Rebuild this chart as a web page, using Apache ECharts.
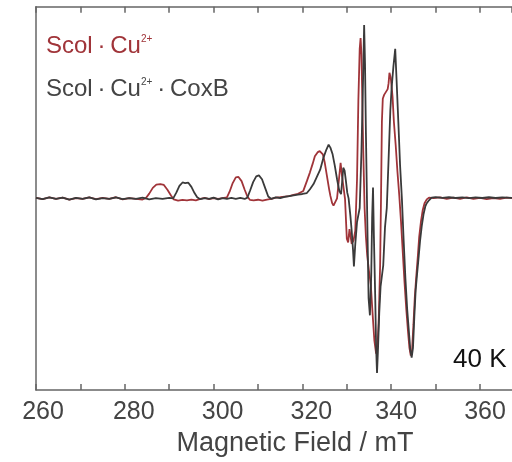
<!DOCTYPE html>
<html>
<head>
<meta charset="utf-8">
<script src="https://cdn.jsdelivr.net/npm/echarts@6/dist/echarts.min.js"></script>
<style>
html,body{margin:0;padding:0;background:#fff;}
#chart{width:512px;height:462px;}
</style>
</head>
<body>
<div id="chart"></div>
<script>
// Magnetic field (mT) vs EPR signal (arb. units)
const scolCu = [
[260,0.3],[261.5,-0.4],[263,0.5],[264.5,-0.2],[266,0.4],[267.5,-0.6],[269,0.2],[270.5,-0.3],[272,0.5],[273.5,-0.4],[275,0.3],[276.5,-0.2],[278,0.6],[279.5,-0.5],[281,0.2],[282.5,-0.3],[284,-0.6],[284.8,0.3],
[285.5,2.5],[286.3,5.5],[287.1,7.2],[288.0,7.5],[288.8,7.0],[289.6,4.5],[290.4,1.5],[291.0,-0.5],[292,-1.2],[293,-0.8],[294,-1.0],[295,-0.6],[296,-1.0],[297,-0.2],[298,0.3],[299,-0.4],[300,0.2],[301,-0.3],[302,0.1],[303.0,0.5],
[303.6,3.5],[304.3,8.0],[305.0,11.0],[305.6,11.2],[306.3,9.0],[307.0,4.5],[307.6,1.0],[308.2,-0.8],[309,-1.0],[310,-0.7],[311,-1.2],[312,-0.6],[313,-0.3],[314,0.4],[315,0.6],[316,0.9],[317,1.2],[318,1.8],[319,2.4],[320.2,3.9],
[321.0,9],[321.7,13.6],[322.3,18],[322.8,22],[323.4,24],[323.9,24.7],[324.2,25],[324.6,23],[325.0,19],[325.5,12],[326.0,5],[326.3,1.3],[326.7,-2.5],[327.0,-3.8],[327.4,-4],[327.8,0],[328.1,7],[328.6,18.6],[328.9,12],[329.3,5],[329.6,-0.4],
[330.0,-21],[330.3,-23],[330.6,-16],[330.9,-17],[331.1,-23.7],[331.5,-22],[331.9,-17],[332.3,10],[332.6,51],[332.9,78],[333.1,83.6],[333.3,75],[333.7,25],[334.0,-5],[334.3,-20],[334.6,-30],[335.0,-38],[335.4,-45],[335.8,-60],[336.2,-74],[336.6,-81],[336.9,-78],[337.2,-62],[337.5,-35],[337.7,0],[337.9,40],
[338.1,52],[338.4,54],[338.8,55],[339.2,57],[339.4,60],[339.6,65.5],[339.9,63],[340.3,53],[340.6,40],[341.0,28],[341.4,14],[341.8,2],[342.2,-12],[342.6,-28],[343.0,-44],[343.4,-58],[343.8,-70],[344.1,-78],[344.4,-82],[344.7,-79],[345.0,-66],[345.3,-52],[345.6,-42],[346.0,-30],[346.3,-20],[346.7,-12],[347.1,-6],[347.5,-2.5],[348.0,-0.5],[348.5,0.4],
[349.5,0.1],[351,0.5],[352.5,-0.3],[354,0.4],[355.5,-0.2],[357,0.5],[358.5,-0.3],[360,0.3],[361.5,-0.4],[363,0.2],[364.5,-0.3],[366,0.4],[367.2,0.1]
];
const scolCuCoxB = [
[260,0.3],[261.5,-0.4],[263,0.5],[264.5,-0.2],[266,0.4],[267.5,-0.6],[269,0.3],[270.5,-0.3],[272,0.5],[273.5,-0.5],[275,0.2],[276.5,-0.3],[278,0.5],[279.5,-0.4],[281,0.2],[282.5,-0.3],[284,0.4],[285.5,-0.5],[287,0.2],[288.5,-0.3],[290,0.3],[290.9,0.0],
[291.6,3],[292.3,6.5],[293.0,8.3],[293.6,8.0],[294.3,8.2],[295.0,6],[295.7,2.8],[296.3,0.6],[297,-0.4],[298,0.2],[299,-0.3],[300,0.4],[301,-0.5],[302,0.2],[303,-0.3],[304,0.3],[305,-0.2],[306,0.3],[307,-0.3],[307.6,0.4],
[308.2,4],[308.9,8.5],[309.6,11.5],[310.2,12],[310.9,10],[311.6,5.5],[312.3,1],[313,-0.3],[314,0.5],[315,0.2],[316,0.8],[317,1.2],[318,1.6],[319,2.0],[320,2.3],[321,2.8],[321.7,4.8],[322.5,7.5],[323.2,11],[324.0,15],[324.7,21],[325.4,25.5],[325.9,28],[326.3,26.5],[326.8,23],[327.3,17],[327.8,10],[328.3,4],[328.7,2.2],
[329.0,10],[329.2,16],[329.5,14.5],[329.8,9],[330.1,3],[330.4,0],[330.8,-9],[331.1,-17],[331.4,-27],[331.6,-35.5],[331.9,-24],[332.3,-12.3],[332.6,-12],[332.9,-5],[333.3,25],[333.6,55],[333.9,90.5],[334.1,70],[334.3,34],[334.6,-10],[334.9,-52],[335.2,-61],[335.5,-40],[335.7,-10],[335.9,5.7],[336.1,-20],[336.4,-52],[336.6,-78],[336.8,-91],
[337.0,-80],[337.3,-60],[337.6,-46],[337.9,-45],[338.2,-35],[338.6,-15],[339.0,-5],[339.4,20],[339.8,46],[340.1,58],[340.5,69],[340.9,78],[341.2,62],[341.6,40],[342.0,17],[342.4,0],[342.8,-22],[343.2,-42],[343.6,-58],[344.0,-70],[344.3,-79],[344.6,-83],[344.9,-78],[345.2,-62],[345.5,-48],[345.8,-40],[346.2,-30],[346.5,-22],[346.9,-14],[347.3,-8],[347.7,-4],[348.0,-2.5],[348.5,-1],[349.1,0.4],
[350,0.7],[351.5,0.3],[353,0.6],[354.5,0.2],[356,0.5],[357.5,0.1],[359,0.5],[360.5,0.2],[362,0.6],[363.5,0.2],[365,0.5],[367.2,0.3]
];
const xLabelValues = [260, 280, 300, 320, 340, 360];

// label shift (px) to mimic reference placement
const labelShift = {260: 7, 280: 9, 300: 9, 320: 9, 340: 5, 360: 5};

const FONT = "'Liberation Sans', Arial, Helvetica, sans-serif";
const RED = '#a03439';
const DARK = '#3a3a3a';
const AXIS = '#666666';

const rich = {};
Object.keys(labelShift).forEach(k => {
  rich['s' + k] = {padding: [0, 0, 0, labelShift[k] * 2]};
});

const chart = echarts.init(document.getElementById('chart'), null, {renderer: 'canvas'});
chart.setOption({
  animation: false,
  backgroundColor: '#fff',
  grid: {left: 36, right: 0, top: 6.7, bottom: 69.3, containLabel: false},
  xAxis: [{
    type: 'value', position: 'bottom', min: 260, max: 367.2, interval: 10,
    axisLine: {show: true, onZero: false, lineStyle: {color: AXIS, width: 1.5}},
    axisTick: {show: true, inside: true, length: 6, lineStyle: {color: AXIS, width: 1.5}},
    splitLine: {show: false},
    axisLabel: {
      show: true, margin: 10, color: '#444', fontSize: 25, fontFamily: FONT,
      showMaxLabel: false, showMinLabel: true, interval: 0,
      formatter: v => xLabelValues.indexOf(v) >= 0 ? '{s' + v + '|' + v + '}' : '',
      rich: rich
    },
    name: 'Magnetic Field / mT', nameLocation: 'middle', nameGap: 29,
    nameTextStyle: {color: '#444', fontSize: 27, fontFamily: FONT, padding: [0, 0, 0, 42]}
  }, {
    type: 'value', position: 'top', min: 260, max: 367.2, interval: 10,
    axisLine: {show: true, onZero: false, lineStyle: {color: AXIS, width: 1.5}},
    axisTick: {show: true, inside: true, length: 6, lineStyle: {color: AXIS, width: 1.5}},
    axisLabel: {show: false}, splitLine: {show: false}
  }],
  yAxis: {
    type: 'value', min: -100, max: 100,
    axisLine: {show: true, onZero: false, lineStyle: {color: AXIS, width: 1.5}},
    axisTick: {show: false}, axisLabel: {show: false}, splitLine: {show: false}
  },
  series: [{
    name: 'Scol·Cu2+', type: 'line', xAxisIndex: 0, data: scolCu, showSymbol: false,
    lineStyle: {color: RED, width: 1.8}, z: 2
  }, {
    name: 'Scol·Cu2+·CoxB', type: 'line', xAxisIndex: 0, data: scolCuCoxB, showSymbol: false,
    lineStyle: {color: DARK, width: 1.8}, z: 3
  }],
  graphic: [{
    type: 'text', left: 46, top: 34,
    style: {
      text: '{a|Scol\u2009·\u2009Cu}{s|2+}',
      rich: {
        a: {fontSize: 24, lineHeight: 24, fontFamily: FONT, fill: RED},
        s: {fontSize: 10, lineHeight: 10, fontFamily: FONT, fill: RED, verticalAlign: 'top'}
      }
    }
  }, {
    type: 'text', left: 46, top: 77,
    style: {
      text: '{a|Scol\u2009·\u2009Cu}{s|2+}{a|\u2009·\u2009CoxB}',
      rich: {
        a: {fontSize: 24, lineHeight: 24, fontFamily: FONT, fill: '#444'},
        s: {fontSize: 10, lineHeight: 10, fontFamily: FONT, fill: '#444', verticalAlign: 'top'}
      }
    }
  }, {
    type: 'text', left: 453, top: 347,
    style: {text: '40 K', fontSize: 26, fontFamily: FONT, fill: '#111'}
  }]
});
</script>
</body>
</html>
